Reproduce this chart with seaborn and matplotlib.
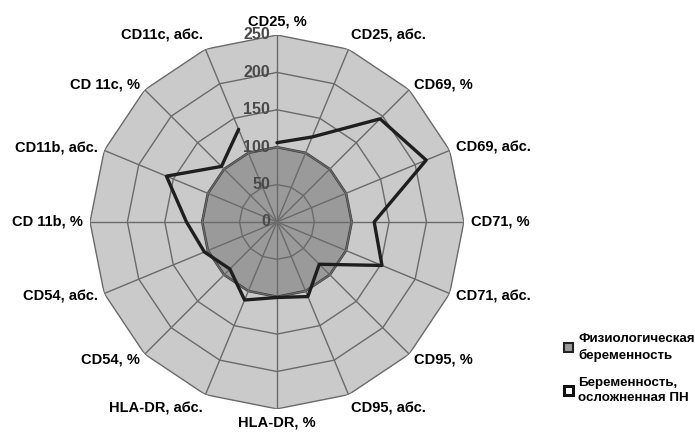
import numpy as np
import pandas as pd
import seaborn as sns
import matplotlib
matplotlib.use("Agg")
import matplotlib.pyplot as plt
from matplotlib.patches import Patch
from matplotlib.transforms import offset_copy

categories = ["CD25, %", "CD25, абс.", "CD69, %", "CD69, абс.", "CD71, %", "CD71, абс.",
              "CD95, %", "CD95, абс.", "HLA-DR, %", "HLA-DR, абс.", "CD54, %", "CD54, абс.",
              "CD 11b, %", "CD11b, абс.", "CD 11c, %", "CD11c, абс."]
physio = [100] * 16
complicated = [106, 123, 195, 216, 130, 152, 80, 108, 101, 113, 89, 105, 121, 160, 105, 134]
r_ticks = [0, 50, 100, 150, 200, 250]
series_names = ["Физиологическая\nбеременность", "Беременность,\nосложненная ПН"]

sns.set_theme(style="white")
plt.rcParams["font.family"] = ["Liberation Sans", "DejaVu Sans"]

n = len(categories)
theta = np.arange(n) * 2 * np.pi / n
theta_c = np.append(theta, theta[0])

fig = plt.figure(figsize=(6.95, 4.34), dpi=100)
ax = fig.add_axes([0.1295, 0.0576, 0.538, 0.862], projection="polar")
ax.set_theta_zero_location("N")
ax.set_theta_direction(-1)
ax.set_ylim(0, 250)
ax.set_xticks([])
ax.set_yticks([])
ax.grid(False)
ax.spines["polar"].set_visible(False)
ax.set_facecolor("none")

# outer area
ax.fill(theta_c, [r_ticks[-1]] * (n + 1), facecolor="#cacaca", edgecolor="none", zorder=1)

# physiological series
ax.fill(theta_c, physio + physio[:1], facecolor="#9a9a9a", edgecolor="#333333", lw=1.8, zorder=2)

# polygon grid
for v in r_ticks[1:]:
    ax.plot(theta_c, [v] * (n + 1), color="#6a6a6a", lw=1.0, zorder=3)
for t in theta:
    ax.plot([t, t], [0, r_ticks[-1]], color="#6a6a6a", lw=1.0, zorder=3)

# complicated pregnancy line
df = pd.DataFrame({"theta": theta_c, "r": complicated + complicated[:1]})
sns.lineplot(data=df, x="theta", y="r", sort=False, ax=ax, color="#1e1e1e", lw=2.4, zorder=4)
ax.set_xlabel("")
ax.set_ylabel("")
ax.set_ylim(0, 250)

# radial tick labels
tr = offset_copy(ax.transData, fig=fig, x=-5, y=0, units="points")
for v in r_ticks:
    ax.text(0, v, str(v), ha="right", va="center", fontsize=11.5, fontweight="bold",
            color="#4a4a4a", transform=tr, zorder=5)

# category labels
for t, lab in zip(theta, categories):
    s, c = np.sin(t), np.cos(t)
    ha = "left" if s > 0.1 else ("right" if s < -0.1 else "center")
    if c > 0.9:
        va = "bottom"
    elif c < -0.9:
        va = "top"
    else:
        va = "center"
    tt = offset_copy(ax.transData, fig=fig, x=5 * s, y=5 * c, units="points")
    ax.text(t, 250, lab, ha=ha, va=va, fontsize=10.5, fontweight="bold",
            color="black", transform=tt, clip_on=False)

handles = [Patch(facecolor="#9a9a9a", edgecolor="#222222", lw=1.5),
           Patch(facecolor="white", edgecolor="#111111", lw=2.2)]
leg = fig.legend(handles, series_names, loc="upper left", bbox_to_anchor=(0.812, 0.233),
                 frameon=False, handlelength=0.65, handleheight=0.65, handletextpad=0.4,
                 labelspacing=1.1, borderaxespad=0, borderpad=0,
                 prop={"weight": "bold", "size": 9.6})
for txt in leg.get_texts():
    txt.set_color("black")
    txt.set_linespacing(1.4)

fig.savefig("out.png", dpi=100)
